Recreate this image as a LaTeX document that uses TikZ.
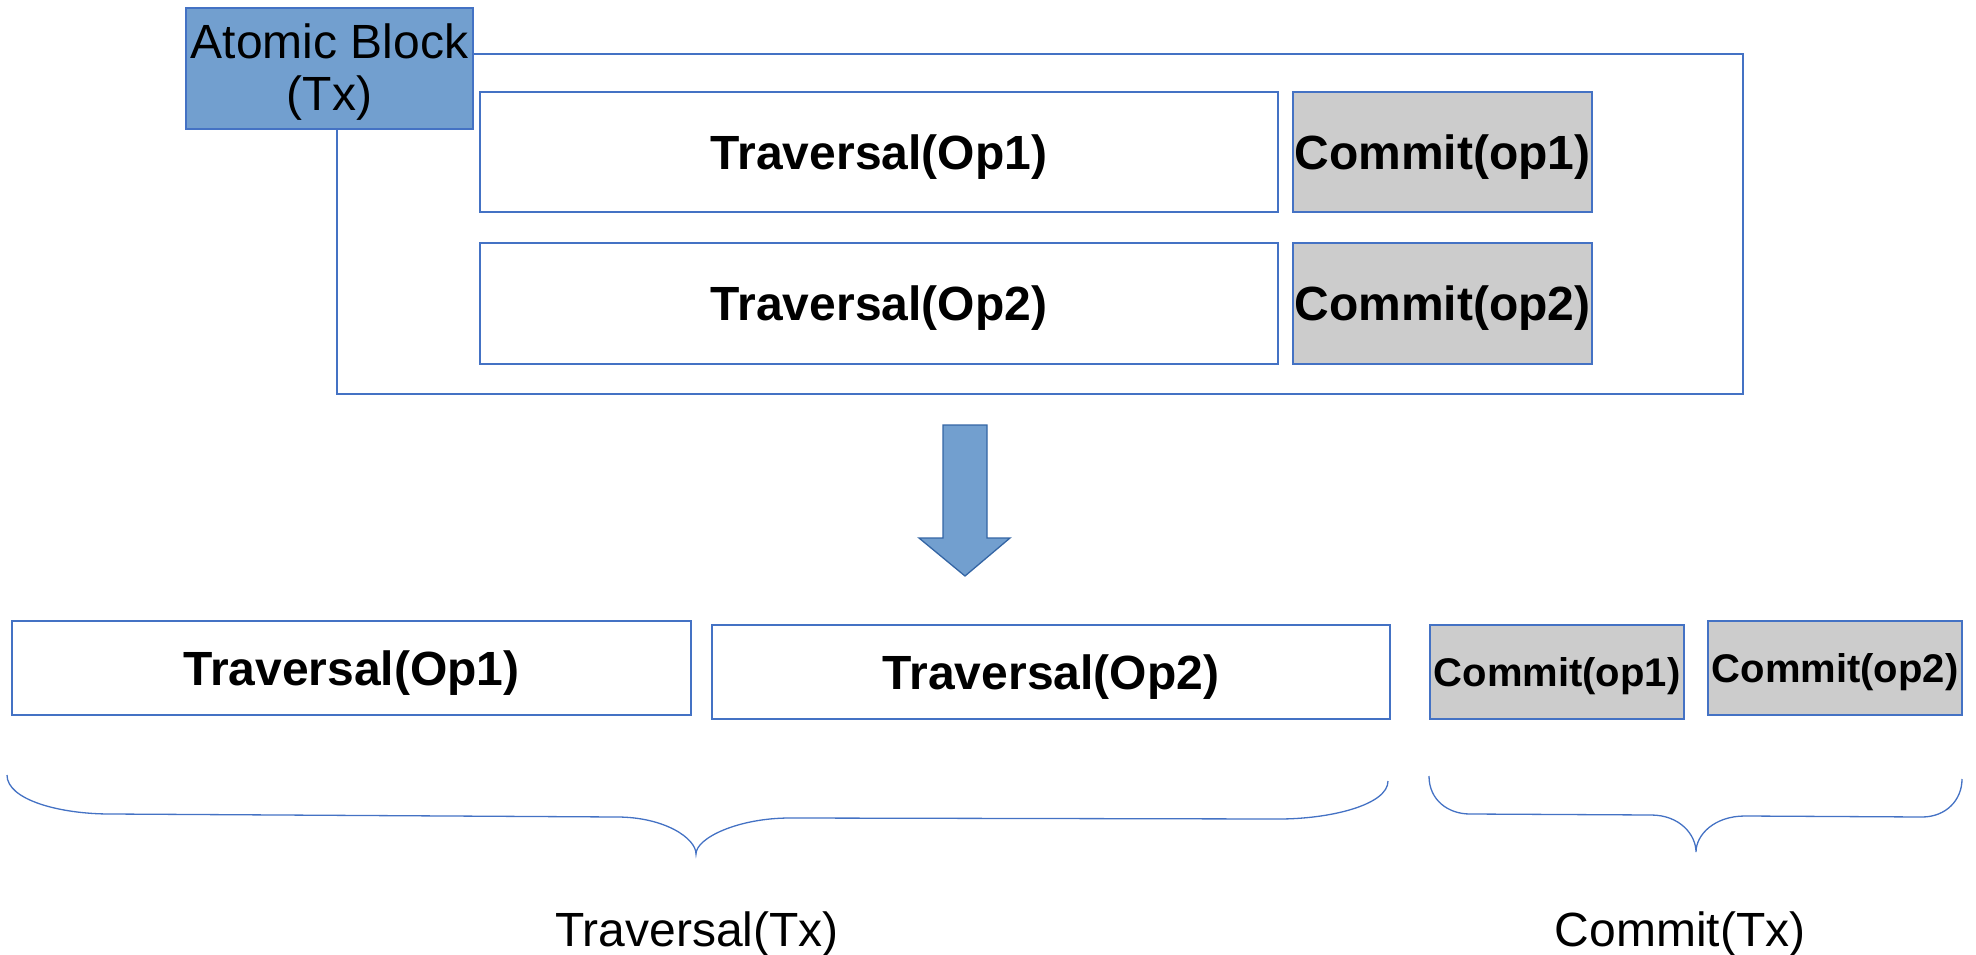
\documentclass[tikz,border=0pt]{standalone}
\usepackage{fontspec}
\setmainfont{Liberation Sans}
\definecolor{lineblue}{HTML}{4472C4}
\definecolor{fillblue}{HTML}{729FCF}
\definecolor{arrowline}{HTML}{3465A4}
\definecolor{boxgray}{HTML}{CCCCCC}
\begin{document}
\begin{tikzpicture}[x=1pt,y=-1pt,
  base/.style={draw=lineblue, line width=1.3pt, inner sep=0pt},
  tbox/.style={base, fill=white, font=\fontsize{48}{53}\selectfont\bfseries, text height=34.4pt, text depth=0pt},
  cbox/.style={tbox, fill=boxgray},
  smallc/.style={base, fill=boxgray, font=\fontsize{40}{46}\selectfont\bfseries, text height=28.6pt, text depth=0pt},
  brace/.style={draw=lineblue, line width=1.3pt},
  lbl/.style={anchor=base, inner sep=0pt, font=\fontsize{48}{53}\selectfont}]
\useasboundingbox (0,0) rectangle (1976,955);
% outer frame and atomic block
\node[base, minimum width=1406pt, minimum height=340pt] (frame) at (1040,224) {};
\node[base, fill=fillblue, minimum width=287pt, minimum height=121pt, align=center, font=\fontsize{48}{52}\selectfont] (ab) at (329.5,68.5) {\rule{0pt}{42pt}Atomic Block\\(Tx)};
% top operations
\node[tbox, minimum width=798pt, minimum height=120pt] (t1) at (879,152) {Traversal(Op1)};
\node[cbox, minimum width=299pt, minimum height=120pt] (c1) at (1442.5,152) {Commit(op1)};
\node[tbox, minimum width=798pt, minimum height=121pt] (t2) at (879,303.5) {Traversal(Op2)};
\node[cbox, minimum width=299pt, minimum height=121pt] (c2) at (1442.5,303.5) {Commit(op2)};
% block arrow
\draw[draw=arrowline, fill=fillblue, line width=1.3pt, line join=miter]
  (943,425) -- (987,425) -- (987,538) -- (1010,538) -- (965,576) -- (919,538) -- (943,538) -- cycle;
% bottom operations
\node[tbox, minimum width=679pt, minimum height=94pt] (bt1) at (351.5,668) {Traversal(Op1)};
\node[tbox, minimum width=678pt, minimum height=94pt] (bt2) at (1051,672) {Traversal(Op2)};
\node[smallc, minimum width=254pt, minimum height=94pt] (bc1) at (1557,672) {Commit(op1)};
\node[smallc, minimum width=254pt, minimum height=94pt] (bc2) at (1835,668) {Commit(op2)};
% braces
\draw[brace] (7,775) .. controls (7,800) and (60,814) .. (110,814) -- (617,817)
  .. controls (664,817) and (696,838) .. (696,854)
  .. controls (696,838) and (738,818) .. (790,818) -- (1279,819)
  .. controls (1330,819) and (1388,805) .. (1388,781);
\draw[brace] (1429,776) .. controls (1429,800) and (1448,814) .. (1470,814) -- (1651,815)
  .. controls (1680,815) and (1696,835) .. (1696,852)
  .. controls (1696,835) and (1714,816) .. (1745,816) -- (1922,817)
  .. controls (1946,817) and (1962,800) .. (1962,779);
% labels
\node[lbl] (ltx) at (697,946) {Traversal(Tx)};
\node[lbl] (lcx) at (1680,946) {Commit(Tx)};
\end{tikzpicture}
\end{document}
